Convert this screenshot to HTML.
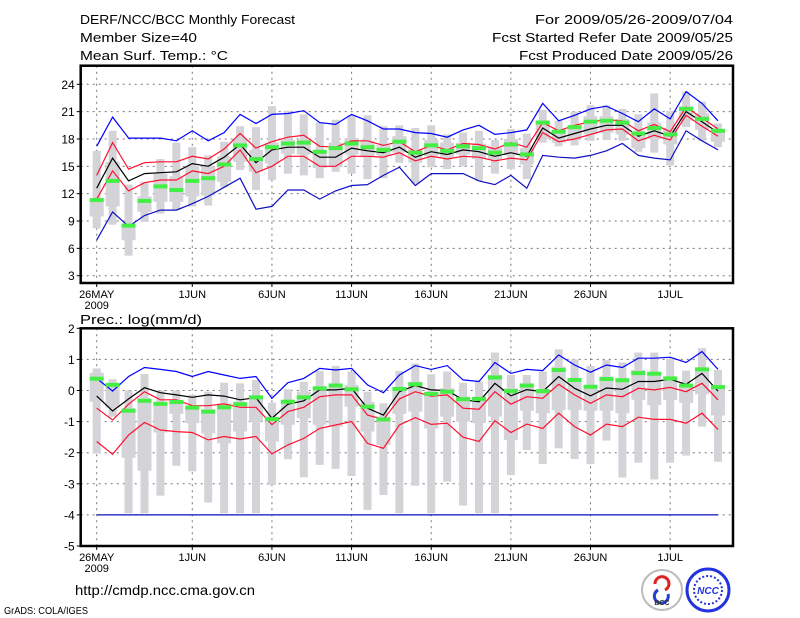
<!DOCTYPE html>
<html><head><meta charset="utf-8"><style>
html,body{margin:0;padding:0;background:#fff;width:800px;height:618px;overflow:hidden}
svg{display:block;font-family:"Liberation Sans",sans-serif}
</style></head><body>
<svg id="chart" width="800" height="618" viewBox="0 0 800 618" xmlns="http://www.w3.org/2000/svg">
<g font-size="13" fill="#000">
<text x="80" y="24" textLength="215" lengthAdjust="spacingAndGlyphs">DERF/NCC/BCC Monthly Forecast</text>
<text x="80" y="42" textLength="117" lengthAdjust="spacingAndGlyphs">Member Size=40</text>
<text x="80" y="60" textLength="148" lengthAdjust="spacingAndGlyphs">Mean Surf. Temp.: °C</text>
<text x="535" y="24" textLength="198" lengthAdjust="spacingAndGlyphs">For 2009/05/26-2009/07/04</text>
<text x="492" y="42" textLength="241" lengthAdjust="spacingAndGlyphs">Fcst Started Refer Date 2009/05/25</text>
<text x="519" y="60" textLength="214" lengthAdjust="spacingAndGlyphs">Fcst Produced Date 2009/05/26</text>
<text x="80" y="324" textLength="122" lengthAdjust="spacingAndGlyphs">Prec.: log(mm/d)</text>
<text x="75" y="595" font-size="14" textLength="180" lengthAdjust="spacingAndGlyphs">http://cmdp.ncc.cma.gov.cn</text>
<text x="4" y="614" font-size="10" textLength="84" lengthAdjust="spacingAndGlyphs">GrADS: COLA/IGES</text>
</g>
<g>
<circle cx="662" cy="590" r="20" fill="#fff" stroke="#bbb" stroke-width="2"/>
<path d="M655 584 a7 7 0 1 1 10 6" fill="none" stroke="#d22" stroke-width="3"/>
<path d="M668 594 a7 7 0 1 1 -10 -4" fill="none" stroke="#24c" stroke-width="3"/>
<text x="662" y="605" font-size="7" text-anchor="middle" font-weight="bold" fill="#333">BCC</text>
<circle cx="708" cy="590" r="21" fill="#fff" stroke="#2233dd" stroke-width="3"/>
<circle cx="708" cy="590" r="14" fill="none" stroke="#2233dd" stroke-width="2" stroke-dasharray="2 2"/>
<text x="708" y="594" font-size="10" text-anchor="middle" font-weight="bold" font-style="italic" fill="#2233dd">NCC</text>
</g>
<g id="plots"></g>
</svg>
<script>
// ---- data ----
var days = ['26MAY','','','','','','1JUN','','','','','6JUN','','','','','11JUN','','','','','16JUN','','','','','21JUN','','','','','26JUN','','','','','1JUL','','',''];
var xTickLabels = ['26MAY','1JUN','6JUN','11JUN','16JUN','21JUN','26JUN','1JUL'];
var xTickDays = [0,6,11,16,21,26,31,36];
var tTicks = [3,6,9,12,15,18,21,24];
var pTicks = [2,1,0,-1,-2,-3,-4,-5];

var tBlueHi = [17.2,20.4,18.1,18.1,18.1,17.8,18.9,17.8,18.7,20.7,19.7,20.7,20.8,21.1,19.8,19.6,20.7,20.0,19.1,19.1,18.7,18.6,18.2,19.0,19.5,18.5,18.7,19.0,21.9,20.0,20.6,21.3,21.6,20.8,19.9,21.3,20.2,23.2,21.9,20.0];
var tBlueLo = [6.9,10.0,8.4,9.6,10.2,10.2,10.9,11.7,12.7,13.7,10.3,10.6,12.4,12.4,11.4,12.3,12.9,13.0,14.0,14.9,12.9,14.2,14.2,14.2,13.4,13.0,14.0,12.6,16.2,16.0,15.9,16.2,16.7,17.5,16.2,15.9,15.7,18.9,17.8,16.8];
var tRedHi = [14.0,17.6,14.7,15.4,15.5,15.5,16.1,15.8,16.9,18.6,17.0,17.7,18.2,18.4,17.2,17.1,17.8,17.8,17.3,17.7,16.6,17.3,16.8,17.5,17.4,16.9,17.6,17.1,19.8,18.9,19.5,19.9,20.1,20.0,18.9,19.6,18.8,21.5,20.3,19.1];
var tMean = [12.6,15.9,13.4,14.2,14.3,14.4,15.3,15.0,16.0,17.4,15.4,16.8,17.1,17.1,16.0,16.0,17.0,16.7,16.5,17.1,16.0,16.6,16.3,16.8,16.6,16.1,16.5,16.1,19.2,18.1,18.6,19.1,19.5,19.5,18.3,18.9,18.3,21.0,19.9,18.7];
var tRedLo = [11.4,14.5,12.3,13.2,13.5,13.5,14.5,14.2,15.0,16.8,14.3,15.0,16.1,16.1,15.0,15.0,16.1,16.1,16.0,16.5,15.6,16.1,15.8,16.1,16.0,15.6,15.9,15.7,18.7,17.7,18.0,18.5,19.0,19.1,17.8,18.4,17.9,20.6,19.4,18.3];
var tObs = [11.3,13.4,8.5,11.2,12.8,12.4,13.4,13.7,15.2,17.3,15.8,17.1,17.5,17.6,16.6,17.0,17.5,17.1,16.8,17.7,16.5,17.3,16.7,17.2,17.0,16.5,17.4,16.3,19.8,18.8,19.3,19.9,20.0,19.8,18.6,19.2,18.5,21.3,20.2,18.9];
var tMax = [16.7,18.9,13.0,13.3,15.8,17.6,17.1,16.2,17.7,19.4,19.3,21.6,21.1,20.7,19.8,20.1,20.6,20.6,19.4,19.5,19.2,19.5,18.5,18.7,18.9,17.9,19.1,18.6,21.2,20.0,21.0,21.7,21.7,21.3,20.7,23.0,21.1,23.2,22.1,19.7];
var tMin = [8.2,8.6,5.2,8.9,9.8,10.2,10.6,10.7,12.7,14.6,12.4,13.5,14.2,14.0,13.7,14.4,14.2,13.6,13.7,15.4,13.1,14.9,14.7,15.0,13.4,14.2,14.7,13.6,17.6,17.2,17.3,17.8,17.9,17.8,16.6,16.5,15.1,19.3,17.8,17.1];
var tQ3 = [11.4,15.5,8.5,11.7,14.2,13.9,15.0,15.0,16.1,18.0,16.8,17.6,17.9,17.9,16.7,17.6,18.1,17.8,17.3,18.3,16.9,17.9,17.6,17.6,17.5,17.0,18.0,17.0,20.0,19.0,19.5,20.5,20.5,20.2,18.8,19.8,19.2,21.6,20.8,19.1];
var tQ1 = [9.5,10.6,6.9,10.0,11.1,11.1,11.7,11.8,13.3,15.5,14.4,15.3,16.4,16.3,14.8,14.9,16.3,16.0,16.2,16.5,15.4,16.1,16.0,16.3,15.8,15.8,16.2,15.2,18.0,17.6,18.0,18.5,18.7,18.5,17.0,18.0,17.4,20.0,19.0,17.7];

var pBlueHi = [0.39,-0.02,0.45,0.74,0.68,0.61,0.45,0.61,0.5,0.39,0.45,-0.25,0.25,0.39,0.71,0.66,0.71,0.18,-0.07,0.5,0.8,0.68,0.8,0.34,0.29,0.9,0.55,0.68,0.64,1.14,0.82,0.59,0.82,0.74,1.04,1.04,1.07,0.9,1.25,0.68];
var pBlueLo = [-4,-4,-4,-4,-4,-4,-4,-4,-4,-4,-4,-4,-4,-4,-4,-4,-4,-4,-4,-4,-4,-4,-4,-4,-4,-4,-4,-4,-4,-4,-4,-4,-4,-4,-4,-4,-4,-4,-4,-4];
var pRedHi = [-0.57,-0.95,-0.44,-0.04,-0.3,-0.3,-0.49,-0.49,-0.43,-0.54,-0.54,-1.1,-0.68,-0.54,-0.2,-0.14,-0.14,-0.79,-0.93,-0.27,-0.04,-0.18,-0.14,-0.57,-0.6,-0.04,-0.44,-0.2,-0.25,0.2,-0.14,-0.41,-0.14,-0.2,0.07,0.02,0.1,-0.04,0.23,-0.3];
var pMean = [-0.18,-0.66,-0.27,0.09,-0.07,-0.14,-0.22,-0.14,-0.18,-0.3,-0.23,-0.89,-0.44,-0.33,0.02,0.02,0.07,-0.57,-0.79,-0.04,0.16,0.02,0.0,-0.3,-0.36,0.23,-0.17,0.03,-0.04,0.45,0.07,-0.17,0.08,0.04,0.29,0.29,0.36,0.2,0.55,-0.02];
var pRedLo = [-1.64,-2.05,-1.43,-1.03,-1.27,-1.32,-1.35,-1.59,-1.48,-1.56,-1.48,-2.04,-1.75,-1.54,-1.22,-1.11,-1.0,-1.7,-1.86,-1.11,-0.87,-1.09,-1.05,-1.5,-1.64,-0.97,-1.35,-1.08,-1.22,-0.73,-1.16,-1.43,-1.08,-1.16,-0.86,-0.93,-0.93,-1.05,-0.73,-1.25];
var pObs = [0.38,0.18,-0.65,-0.33,-0.43,-0.37,-0.55,-0.68,-0.54,-0.44,-0.22,-0.92,-0.36,-0.22,0.07,0.16,0.04,-0.52,-0.93,0.05,0.2,-0.11,-0.04,-0.28,-0.27,0.42,-0.02,0.16,-0.02,0.66,0.34,0.12,0.37,0.33,0.56,0.54,0.39,0.16,0.68,0.11];
var pMax = [0.71,0.36,0.0,0.53,0.0,0.0,-0.14,-0.04,0.25,0.23,0.34,-0.39,0.04,0.28,0.63,0.79,0.61,-0.04,-0.41,0.63,0.87,0.52,0.61,0.25,0.29,1.22,0.5,0.5,0.61,1.32,1.0,0.79,0.98,0.9,1.22,1.22,1.03,0.64,1.36,0.66];
var pMin = [-2.02,-0.84,-3.95,-3.95,-3.38,-2.42,-2.6,-3.6,-3.95,-3.95,-3.95,-3.04,-2.21,-2.79,-2.39,-2.52,-2.75,-3.84,-3.36,-3.95,-3.06,-3.95,-2.93,-3.7,-3.95,-3.95,-2.72,-1.91,-2.36,-1.86,-2.2,-2.36,-1.61,-2.8,-2.32,-2.86,-2.32,-2.09,-1.16,-2.29];
var pQ3 = [0.57,0.2,-0.57,-0.25,-0.36,-0.3,-0.5,-0.6,-0.41,-0.39,-0.18,-0.84,-0.3,-0.04,0.07,0.23,0.18,-0.36,-0.84,0.07,0.28,-0.04,0.07,-0.2,-0.2,0.5,0.07,0.23,0.02,0.77,0.39,0.18,0.45,0.39,0.66,0.6,0.45,0.16,0.68,0.18];
var pQ1 = [-0.36,-0.55,-2.16,-2.58,-1.35,-0.75,-1.05,-1.38,-1.7,-1.32,-1.0,-1.64,-1.1,-0.89,-1.1,-1.16,-0.52,-1.32,-1.75,-0.75,-0.68,-1.22,-0.84,-1.0,-1.05,-0.84,-1.59,-0.65,-0.73,-0.63,-0.63,-0.65,-0.65,-0.73,-0.3,-0.47,-0.3,-0.4,-0.12,-0.8];

// ---- geometry ----
var X0 = 80.7, X1 = 733;
function xs(d){ return 96.7 + d*15.93; }
function yT(v){ return 84.3 + (24 - v)*9.114; }
function yP(v){ return 328.3 + (2 - v)*31.1; }
var NS = 'http://www.w3.org/2000/svg';
var root = document.getElementById('plots');
function mk(tag, attrs, parent){
  var e = document.createElementNS(NS, tag);
  for (var k in attrs) e.setAttribute(k, attrs[k]);
  (parent || root).appendChild(e);
  return e;
}
function panel(name, top, bot, ys, ticks, hi, lo, rHi, mean, rLo, obs, mx, mn, q3, q1, showYear){
  var g = mk('g', {});
  
  
  // grid
  ticks.forEach(function(t){
    var y = ys(t);
    if (y > top + 2 && y < bot - 2) {
      var l = mk('line', {x1:X0, x2:X1, y1:y, y2:y, stroke:'#777', 'stroke-width':1, 'stroke-dasharray':'2 4'}, g);
      
      
    }
    var tk = mk('line', {x1:X0-4, x2:X0, y1:y, y2:y, stroke:'#000', 'stroke-width':1}, g);
    
    
    var tx = mk('text', {x:X0-6, y:y+4.5, 'font-size':12, 'text-anchor':'end'}, g);
    tx.textContent = String(t);
    
    
  });
  xTickDays.forEach(function(d, i){
    var x = xs(d);
    var l = mk('line', {x1:x, x2:x, y1:top, y2:bot, stroke:'#777', 'stroke-width':1, 'stroke-dasharray':'2 4'}, g);
    
    
    var tk = mk('line', {x1:x, x2:x, y1:bot, y2:bot+4, stroke:'#000', 'stroke-width':1}, g);
    
    
    var tx = mk('text', {x:x, y:bot+15, 'font-size':11, 'text-anchor':'middle'}, g);
    tx.textContent = xTickLabels[i];
    
    
  });
  var yr = mk('text', {x:xs(0), y:bot+26, 'font-size':11, 'text-anchor':'middle'}, g);
  yr.textContent = '2009';
  
  
  // boxes
  for (var d = 0; d < mx.length; d++){
    var x = xs(d);
    var b = mk('rect', {x:x-4, y:ys(mx[d]), width:8, height:Math.max(1, ys(mn[d])-ys(mx[d])), fill:'#d3d3d8'}, g);
    
    
    var q = mk('rect', {x:x-7, y:ys(q3[d]), width:14, height:Math.max(1, ys(q1[d])-ys(q3[d])), fill:'#d3d3d8'}, g);
    
    
  }
  function line(arr, color, nm, w){
    var pts = arr.map(function(v, i){ return xs(i).toFixed(1) + ',' + ys(v).toFixed(1); }).join(' ');
    var p = mk('polyline', {points:pts, fill:'none', stroke:color, 'stroke-width':w || 1.2}, g);
    
    
  }
  line(hi, '#0000ff', 'blue-upper-line');
  line(lo, '#1010c0', 'blue-lower-line');
  line(rHi, '#ff1030', 'red-upper-line');
  line(rLo, '#ff1030', 'red-lower-line');
  line(mean, '#000', 'ensemble-mean-line');
  for (var d2 = 0; d2 < obs.length; d2++){
    var m = mk('rect', {x:xs(d2)-7, y:ys(obs[d2])-2, width:14, height:4, fill:'#44ee44'}, g);
    
    
  }
  var f = mk('rect', {x:X0, y:top, width:X1-X0, height:bot-top, fill:'none', stroke:'#000', 'stroke-width':2.5}, g);
  
  
}
panel('temperature-panel', 65.7, 283, yT, tTicks, tBlueHi, tBlueLo, tRedHi, tMean, tRedLo, tObs, tMax, tMin, tQ3, tQ1);
panel('precipitation-panel', 328.3, 546, yP, pTicks, pBlueHi, pBlueLo, pRedHi, pMean, pRedLo, pObs, pMax, pMin, pQ3, pQ1);
</script>
</body></html>
